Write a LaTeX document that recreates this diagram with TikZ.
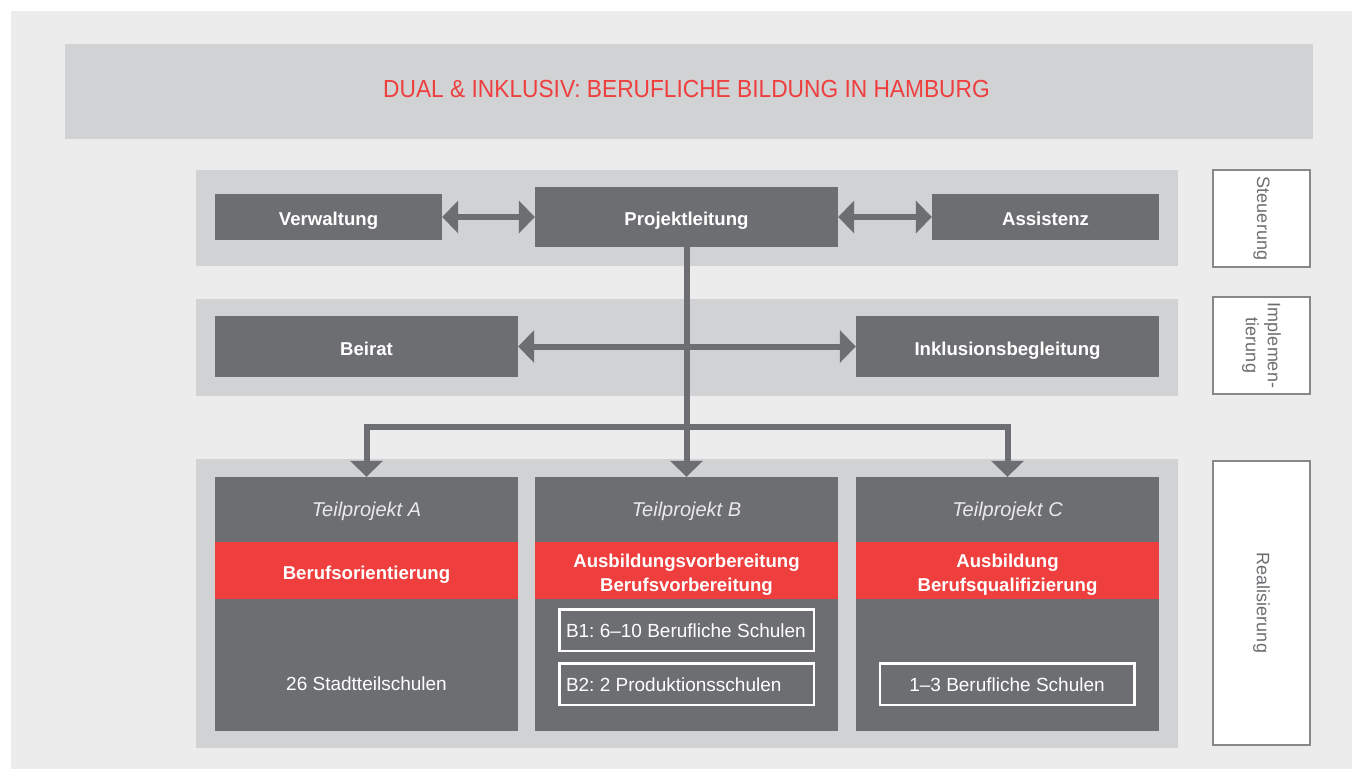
\documentclass[tikz,border=0pt]{standalone}
\usepackage{fontspec}
\setmainfont{Liberation Sans}
\newfontfamily\titlefont{Liberation Sans}[FakeStretch=0.92]
\usetikzlibrary{arrows.meta}
\frenchspacing

\definecolor{pagebg}{HTML}{ECECEC}
\definecolor{bandgray}{HTML}{D1D2D4}
\definecolor{darkbox}{HTML}{6D6E71}
\definecolor{hhred}{HTML}{EE3F3E}
\definecolor{framegray}{HTML}{888888}
\definecolor{paletext}{HTML}{EAEAEA}

\begin{document}
\begin{tikzpicture}[x=1pt,y=-1pt,
  bandbox/.style={fill=bandgray, draw=none, inner sep=0pt},
  unitbox/.style={fill=darkbox, text=white, inner sep=0pt, text height=17pt, text depth=0pt,
    font=\fontsize{18.6}{22}\selectfont\bfseries},
  panel/.style={fill=darkbox, inner sep=0pt, minimum width=303pt, minimum height=254pt},
  tptitle/.style={text=paletext, inner sep=0pt, text height=14.4pt, text depth=0pt,
    font=\fontsize{20}{24}\selectfont\itshape},
  redband/.style={fill=hhred, inner sep=0pt, minimum width=303pt, minimum height=57pt},
  redtext/.style={text=white, inner sep=0pt, align=center, yshift=-4pt,
    font=\fontsize{18.6}{23.5}\selectfont\bfseries},
  plain/.style={text=white, inner sep=0pt, text height=13.4pt, text depth=0pt,
    font=\fontsize{19}{23}\selectfont},
  schoolbox/.style={draw=white, line width=2.5pt, text=white, inner sep=0pt,
    minimum width=254.5pt, minimum height=41.5pt, text height=14.4pt, text depth=0pt,
    font=\fontsize{19}{23}\selectfont},
  sidelabel/.style={draw=framegray, fill=white, line width=1.8pt, text=darkbox,
    rotate=-90, inner sep=0pt, align=center, font=\fontsize{18}{22}\selectfont},
  conn/.style={draw=darkbox, line width=6pt, line join=miter},
  bigtri/.tip={Triangle[length=16pt 0, width=32pt 0]}
]
% canvas and page background
\useasboundingbox (0,0) rectangle (1352,769);
\fill[white] (0,0) rectangle (1352,769);
\fill[pagebg] (11,11) rectangle (1352,769);

% title band
\node[bandbox, minimum width=1248pt, minimum height=95pt] (titleband) at (689,91.5) {};
\node[text=hhred, inner sep=0pt, text height=17.4pt, text depth=0pt,
  font=\titlefont\fontsize{24.7}{28}\selectfont]
  (title) at (686.5,89) {DUAL \& INKLUSIV: BERUFLICHE BILDUNG IN HAMBURG};

% level bands
\node[bandbox, minimum width=982pt, minimum height=96pt] (band1) at (687,218) {};
\node[bandbox, minimum width=982pt, minimum height=97pt] (band2) at (687,347.5) {};
\node[bandbox, minimum width=982pt, minimum height=289pt] (band3) at (687,603.5) {};

% steering level
\node[unitbox, minimum width=227pt, minimum height=46pt] (verw) at (328.5,217) {Verwaltung};
\node[unitbox, minimum width=303pt, minimum height=60pt] (proj) at (686.5,217) {Projektleitung};
\node[unitbox, minimum width=227pt, minimum height=46pt] (assist) at (1045.5,217) {Assistenz};

% implementation level
\node[unitbox, minimum width=303pt, minimum height=61pt] (beirat) at (366.5,346.5) {Beirat};
\node[unitbox, minimum width=303pt, minimum height=61pt] (inkl) at (1007.5,346.5) {Inklusionsbegleitung};

% sub-projects
\node[panel] (pA) at (366.5,604) {};
\node[panel] (pB) at (686.5,604) {};
\node[panel] (pC) at (1007.5,604) {};

\node[tptitle] (tA) at (366.5,509.5) {Teilprojekt A};
\node[tptitle] (tB) at (686.5,509.5) {Teilprojekt B};
\node[tptitle] (tC) at (1007.5,509.5) {Teilprojekt C};

\node[redband] (rA) at (366.5,570.5) {};
\node[redband] (rB) at (686.5,570.5) {};
\node[redband] (rC) at (1007.5,570.5) {};
\node[redtext] (rAt) at (rA) {Berufsorientierung};
\node[redtext] (rBt) at (rB) {Ausbildungsvorbereitung\\Berufsvorbereitung};
\node[redtext] (rCt) at (rC) {Ausbildung\\Berufsqualifizierung};

\node[plain] (sA) at (366.5,684) {26 Stadtteilschulen};
\node[schoolbox] (sB1) at (686.5,630) {\makebox[241pt][l]{B1: 6--10 Berufliche Schulen}};
\node[schoolbox] (sB2) at (686.5,684) {\makebox[241pt][l]{B2: 2 Produktionsschulen}};
\node[schoolbox] (sC) at (1007,684) {1--3 Berufliche Schulen};

% level labels
\node[sidelabel, minimum width=97.5pt, minimum height=97.5pt] (lS) at (1261.5,218.5) {Steuerung};
\node[sidelabel, minimum width=97.5pt, minimum height=97.5pt] (lI) at (1261.5,345.5) {Implemen-\\tierung};
\node[sidelabel, minimum width=284.5pt, minimum height=97.5pt] (lR) at (1261.5,603) {Realisierung};

% connectors
\coordinate (bus) at (686.5,426.5);
\draw[conn, {bigtri}-{bigtri}] (verw.east) -- (proj.west);
\draw[conn, {bigtri}-{bigtri}] (proj.east) -- (assist.west);
\draw[conn, {bigtri}-{bigtri}] (beirat.east) -- (inkl.west);
\draw[conn, -{bigtri}] (proj.south) -- (pB.north);
\draw[conn, {bigtri}-{bigtri}] (pA.north) -- (pA.north |- bus) -- (pC.north |- bus) -- (pC.north);
\end{tikzpicture}
\end{document}
